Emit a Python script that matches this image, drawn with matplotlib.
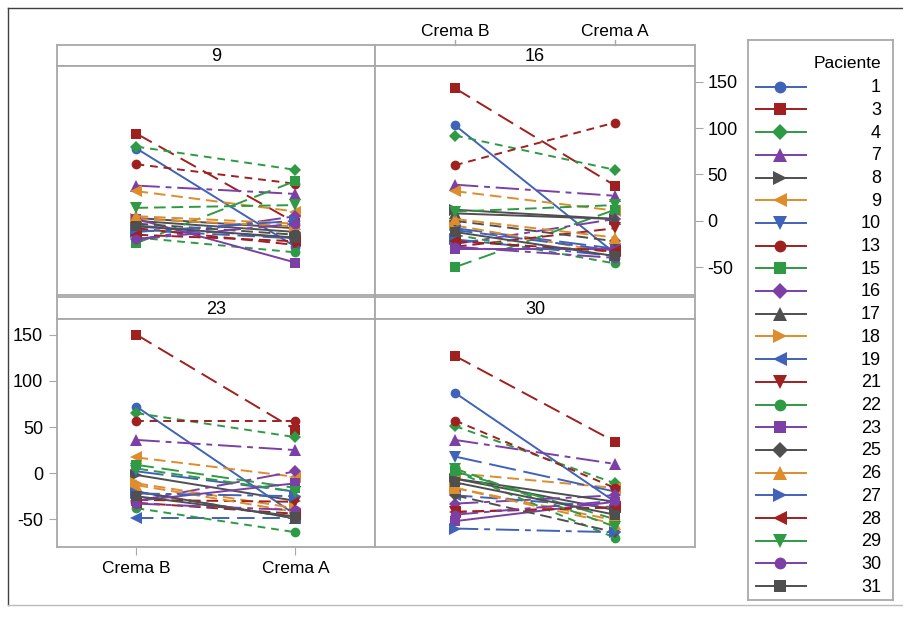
import matplotlib
matplotlib.use("Agg")
import matplotlib.pyplot as plt
from matplotlib.lines import Line2D

plt.rcParams['font.family'] = ['Liberation Sans', 'DejaVu Sans']
plt.rcParams['axes.unicode_minus'] = False

patients = ['1', '3', '4', '7', '8', '9', '10', '13', '15', '16', '17', '18',
            '19', '21', '22', '23', '25', '26', '27', '28', '29', '30', '31']
treatments = ['Crema B', 'Crema A']
panels = ['9', '16', '23', '30']

# values per panel: [Crema B, Crema A] per patient (same order as `patients`)
crema_b_9 = [78, 94, 80, 38, 0, 32, -5, 61, -24, -20, 3, 2, -10, -8, -18, 2, -3, 5, -12, -15, 14, -20, -6]
crema_a_9 = [-28, -2, 55, 29, -12, 10, -19, 40, 43, 5, -8, -6, -19, -26, -34, -45, -15, -3, 0, -22, 17, -3, -18]

crema_b_16 = [103, 143, 92, 39, 12, 32, -8, 60, -50, -25, 8, -5, -10, -28, -15, -30, 0, 2, -20, -22, 10, -28, -12]
crema_a_16 = [-35, 38, 55, 27, 2, 11, -30, 106, 12, 2, 2, -35, -32, -8, -46, -30, -22, -18, -38, -33, 17, -40, -38]

crema_b_23 = [72, 150, 65, 36, -2, 17, 2, 57, 9, -30, -20, -11, -49, -29, -38, -30, -20, -13, -22, -32, 5, -33, -25]
crema_a_23 = [-45, 47, 39, 25, -30, -4, -20, 57, -16, 2, -49, -38, -49, -31, -64, -11, -49, -42, -25, -44, -20, -40, -47]

crema_b_30 = [87, 127, 51, 36, -6, 0, 18, 57, 2, -33, -6, -16, -24, -42, 2, -52, -24, -16, -60, -42, 5, -45, -10]
crema_a_30 = [-31, 34, -11, 10, -40, -16, -20, -16, -50, -24, -31, -51, -37, -37, -70, -31, -64, -55, -64, -37, -58, -30, -45]

data = {
    '9': (crema_b_9, crema_a_9),
    '16': (crema_b_16, crema_a_16),
    '23': (crema_b_23, crema_a_23),
    '30': (crema_b_30, crema_a_30),
}

y_ticks = [-50, 0, 50, 100, 150]

colors = ['#3f63b8', '#a01f1f', '#2f9a44', '#7b3fa6', '#4f4f4f', '#de8c2c']
markers = ['o', 's', 'D', '^', '>', '<', 'v']
SOLID = '-'
LONG = (0, (9, 4))
SHORT = (0, (4, 3))
MED = (0, (6, 3))
DASHDOT = (0, (12, 3, 3, 3))
LONGER = (0, (14, 4))
line_styles = [SOLID, LONG, SHORT, DASHDOT, SOLID, MED, LONGER, SHORT, LONG,
               DASHDOT, SOLID, MED, LONG, MED, SHORT, SOLID, MED, MED, DASHDOT,
               MED, MED, DASHDOT, SOLID]
msizes = {'o': 7, 's': 6.5, 'D': 6.5, '^': 8, '>': 8, '<': 8, 'v': 8}

W, H = 904, 623
fig = plt.figure(figsize=(W / 100, H / 100), dpi=100)
fig.patch.set_facecolor('white')

frame_col = '#a8a8a8'


def rect(x0, y0, x1, y1):
    return [x0 / W, 1 - y1 / H, (x1 - x0) / W, (y1 - y0) / H]


col_x = [(57, 375), (375, 695)]
rows = [((45, 66), (66, 295)), ((297, 319), (319, 547))]
ylim = (-80, 167)

for i, pan in enumerate(panels):
    r, c = divmod(i, 2)
    (sy0, sy1), (py0, py1) = rows[r]
    x0, x1 = col_x[c]
    # strip
    sax = fig.add_axes(rect(x0, sy0, x1, sy1))
    sax.set_xticks([]); sax.set_yticks([])
    sax.set_facecolor('white')
    for sp in sax.spines.values():
        sp.set_color(frame_col); sp.set_linewidth(1.3)
    sax.text(0.5, 0.45, pan, ha='center', va='center', fontsize=13,
             transform=sax.transAxes)
    # panel
    ax = fig.add_axes(rect(x0, py0, x1, py1))
    ax.set_facecolor('white')
    for sp in ax.spines.values():
        sp.set_color(frame_col); sp.set_linewidth(1.3)
    bvals, avals = data[pan]
    for k, p in enumerate(patients):
        mk = markers[k % 7]
        ax.plot([0, 1], [bvals[k], avals[k]], color=colors[k % 6],
                linestyle=line_styles[k], linewidth=1.4,
                marker=mk, markersize=msizes[mk],
                markeredgewidth=0, zorder=2)
    ax.set_xlim(-0.5, 1.5)
    ax.set_ylim(*ylim)
    ax.set_xticks([0, 1])
    ax.set_yticks(y_ticks)
    ax.tick_params(direction='out', length=6, color=frame_col, labelsize=13,
                   left=False, right=False, top=False, bottom=False,
                   labelleft=False, labelright=False, labeltop=False,
                   labelbottom=False)
    if r == 0 and c == 1:
        ax.tick_params(right=True, labelright=True, pad=3)
        ax.set_xticklabels(treatments)
        for xv, lab in zip([0, 1], treatments):
            xp = x0 + (xv + 0.5) / 2.0 * (x1 - x0)
            fig.text(xp / W, 1 - 32 / H, lab, ha='center', va='center',
                     fontsize=12.5)
            fig.add_artist(Line2D([xp / W, xp / W], [1 - 45 / H, 1 - 40 / H],
                                  color=frame_col, lw=1))
    if r == 1 and c == 0:
        ax.tick_params(left=True, labelleft=True, bottom=True,
                       labelbottom=True, pad=4)
        ax.set_xticklabels(treatments, fontsize=12.5)

# legend
lax = fig.add_axes(rect(748, 40, 893, 600))
lax.set_xlim(0, 145)
lax.set_ylim(560, 0)
lax.set_xticks([]); lax.set_yticks([])
for sp in lax.spines.values():
    sp.set_color(frame_col); sp.set_linewidth(1.3)
lax.text(133, 23, 'Paciente', ha='right', va='center', fontsize=12.5)
for k, p in enumerate(patients):
    yy = 46.7 + k * 22.7
    mk = markers[k % 7]
    lax.plot([8, 32, 58], [yy, yy, yy], color=colors[k % 6], linewidth=1.4,
             marker=mk, markersize=msizes[mk] + 1.5,
             markeredgewidth=0, markevery=[1])
    lax.text(133, yy + 1, p, ha='right', va='center', fontsize=13)

# outer frame
fig.add_artist(Line2D([8 / W, 8 / W], [1 - 8 / H, 1 - 605 / H], color='#404040', lw=1))
fig.add_artist(Line2D([8 / W, 1], [1 - 8 / H, 1 - 8 / H], color='#404040', lw=1))
fig.add_artist(Line2D([8 / W, 1], [1 - 605 / H, 1 - 605 / H], color='#bbbbbb', lw=1))

fig.savefig('out.png', dpi=100)
